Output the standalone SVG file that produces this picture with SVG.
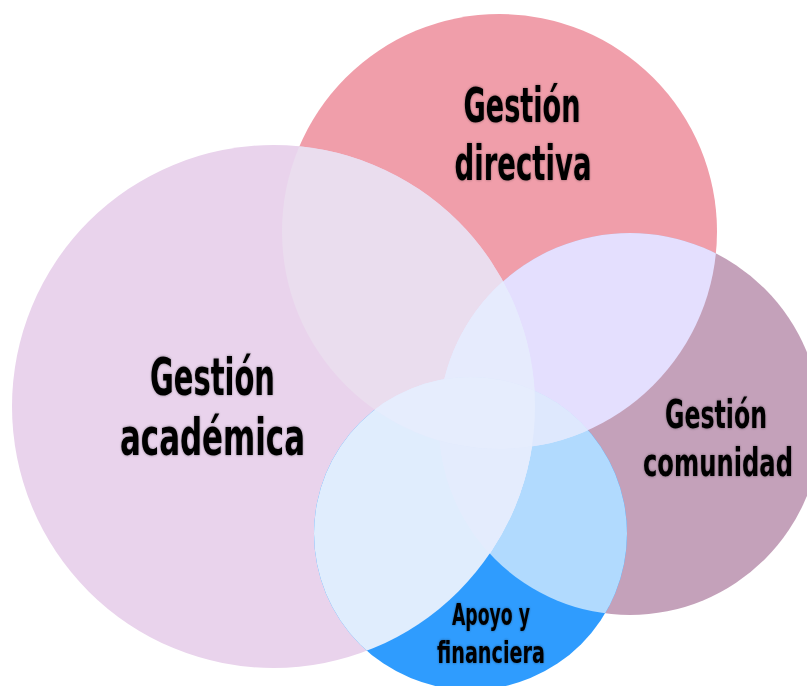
<svg xmlns="http://www.w3.org/2000/svg" width="807" height="686" viewBox="0 0 807 686">
<style>
.lbl{font-family:"DejaVu Sans Condensed","Liberation Sans Narrow","Liberation Sans",sans-serif;font-weight:bold;fill:#000;text-anchor:middle;filter:url(#glow)}
</style>
<defs>
<filter id="glow" x="-20%" y="-30%" width="140%" height="160%">
<feGaussianBlur in="SourceAlpha" stdDeviation="1.8"/>
<feComponentTransfer><feFuncA type="linear" slope="0.4"/></feComponentTransfer>
<feMerge><feMergeNode/><feMergeNode in="SourceGraphic"/></feMerge>
</filter>
<clipPath id="cD"><circle cx="499.5" cy="231.5" r="217.5"/></clipPath>
<clipPath id="cA"><circle cx="273.5" cy="406.5" r="261.5"/></clipPath>
<clipPath id="cC"><circle cx="630" cy="424" r="191"/></clipPath>
<clipPath id="cP"><circle cx="470.5" cy="533.5" r="156.5"/></clipPath>
</defs>
<rect width="807" height="686" fill="#fff"/>

<g id="node-directiva">
<circle cx="499.5" cy="231.5" r="217.5" fill="#F09EAA"/>
<g transform="scale(0.7,1)">
<text class="lbl" x="745.71" y="122" font-size="48" textLength="167.14" lengthAdjust="spacingAndGlyphs">Gestión</text>
<text class="lbl" x="747.14" y="180" font-size="48" textLength="195.71" lengthAdjust="spacingAndGlyphs">directiva</text>
</g>
</g>
<g id="node-academica">
<circle cx="273.5" cy="406.5" r="261.5" fill="#E9D3EC"/>
<g transform="scale(0.7,1)">
<text class="lbl" x="303.57" y="395" font-size="52" textLength="178.57" lengthAdjust="spacingAndGlyphs">Gestión</text>
<text class="lbl" x="303.57" y="455" font-size="52" textLength="264.29" lengthAdjust="spacingAndGlyphs">académica</text>
</g>
</g>
<g id="node-comunidad">
<circle cx="630" cy="424" r="191" fill="#C4A1BA"/>
<g transform="scale(0.7,1)">
<text class="lbl" x="1022.86" y="428" font-size="39" textLength="145.71" lengthAdjust="spacingAndGlyphs">Gestión</text>
<text class="lbl" x="1025.71" y="476" font-size="39" textLength="214.29" lengthAdjust="spacingAndGlyphs">comunidad</text>
</g>
</g>
<g id="node-apoyo">
<circle cx="470.5" cy="533.5" r="156.5" fill="#2F9CFE"/>
<g transform="scale(0.7,1)">
<text class="lbl" x="701.43" y="625" font-size="31" textLength="111.43" lengthAdjust="spacingAndGlyphs">Apoyo y</text>
<text class="lbl" x="701.43" y="663" font-size="31" textLength="154.29" lengthAdjust="spacingAndGlyphs">financiera</text>
</g>
</g>

<g id="overlaps">
<g clip-path="url(#cD)"><circle cx="273.5" cy="406.5" r="261.5" fill="#EADDEE"/></g>
<g clip-path="url(#cD)"><circle cx="630" cy="424" r="191" fill="#E4DFFE"/></g>
<g clip-path="url(#cC)"><circle cx="470.5" cy="533.5" r="156.5" fill="#B1DAFE"/></g>
<g clip-path="url(#cA)"><circle cx="470.5" cy="533.5" r="156.5" fill="#E0EDFD"/></g>
<g clip-path="url(#cA)"><circle cx="630" cy="424" r="191" fill="#E5EBFD"/></g>
<g clip-path="url(#cD)"><circle cx="470.5" cy="533.5" r="156.5" fill="#E2E8FD"/></g>
<g clip-path="url(#cD)"><g clip-path="url(#cA)"><circle cx="630" cy="424" r="191" fill="#E6EBFD"/></g></g>
<g clip-path="url(#cC)"><g clip-path="url(#cA)"><circle cx="470.5" cy="533.5" r="156.5" fill="#E4ECFD"/></g></g>
<g clip-path="url(#cC)"><g clip-path="url(#cD)"><circle cx="470.5" cy="533.5" r="156.5" fill="#DEE8FD"/></g></g>
<g clip-path="url(#cA)"><g clip-path="url(#cD)"><circle cx="470.5" cy="533.5" r="156.5" fill="#E6EDFD"/></g></g>
</g>
<g id="connectors"/>
</svg>
